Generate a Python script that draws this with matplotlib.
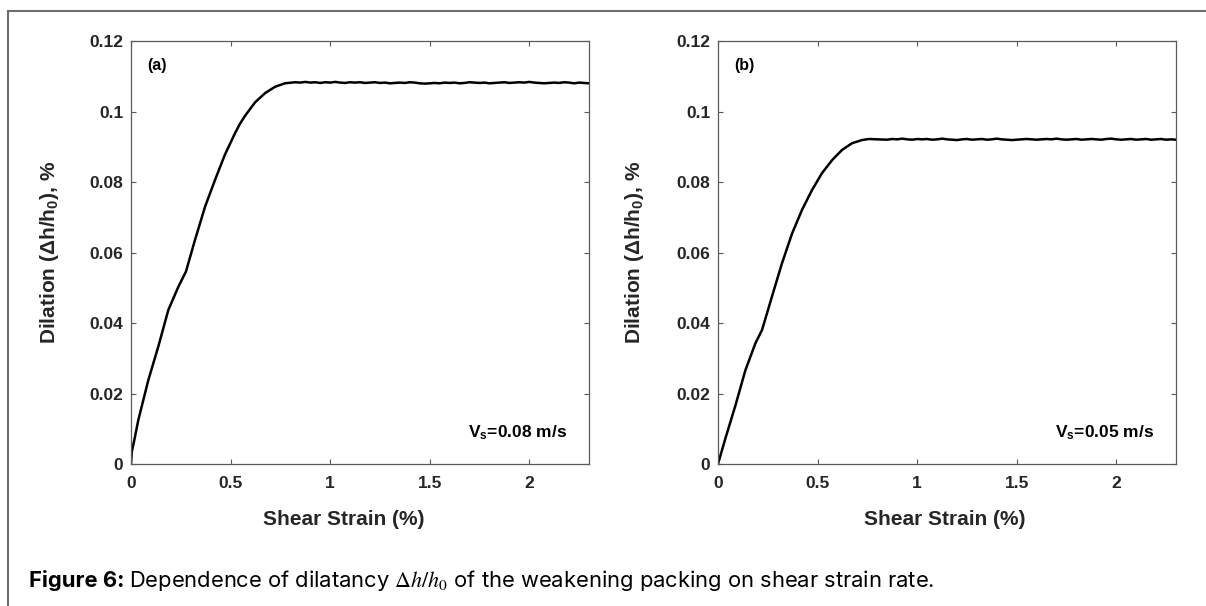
import numpy as np
import matplotlib
matplotlib.use("Agg")
import matplotlib.pyplot as plt
from matplotlib.lines import Line2D

plt.rcParams["font.family"] = ["Liberation Sans", "DejaVu Sans"]
plt.rcParams["mathtext.fontset"] = "custom"
plt.rcParams["mathtext.rm"] = "Liberation Sans:bold"
plt.rcParams["mathtext.it"] = "Liberation Sans:italic:bold"
plt.rcParams["mathtext.bf"] = "Liberation Sans:bold"

# ------------------------------------------------------------
# data
# ------------------------------------------------------------
# (a) Vs = 0.08 m/s : rising part
strain_a_rise = [0, 0.004, 0.0167, 0.0368, 0.087, 0.137, 0.1875, 0.238, 0.276,
                 0.321, 0.372, 0.422, 0.472, 0.522, 0.547, 0.573, 0.623, 0.673,
                 0.723, 0.773, 0.824]
dil_a_rise = [0, 0.0035, 0.0068, 0.0125, 0.0238, 0.0333, 0.0437, 0.0503, 0.0546,
              0.0635, 0.0730, 0.0806, 0.0878, 0.0938, 0.0965, 0.0988, 0.1026,
              0.1052, 0.1070, 0.1080, 0.1083]
# (a) plateau, sampled every 0.025 from 0.85 to 2.3
dil_a_plateau = [
    0.1082, 0.1084, 0.1082, 0.1083, 0.1081, 0.1083, 0.1082, 0.1084, 0.1082, 0.1081,
    0.1083, 0.1082, 0.1083, 0.1081, 0.1082, 0.1083, 0.1081, 0.1082, 0.1080, 0.1081,
    0.1082, 0.1081, 0.1083, 0.1082, 0.1080, 0.1079, 0.1080, 0.1081, 0.1080, 0.1082,
    0.1081, 0.1082, 0.1080, 0.1081, 0.1083, 0.1082, 0.1081, 0.1082, 0.1080, 0.1081,
    0.1082, 0.1083, 0.1081, 0.1082, 0.1083, 0.1082, 0.1084, 0.1082, 0.1081, 0.1080,
    0.1081, 0.1082, 0.1081, 0.1083, 0.1082, 0.1080, 0.1082, 0.1081, 0.1080]

# (b) Vs = 0.05 m/s : rising part
strain_b_rise = [0, 0.0368, 0.087, 0.137, 0.1875, 0.221, 0.271, 0.321, 0.372,
                 0.422, 0.472, 0.522, 0.573, 0.623, 0.673, 0.723, 0.757, 0.80]
dil_b_rise = [0, 0.0072, 0.0165, 0.0265, 0.0342, 0.0380, 0.0475, 0.0569, 0.0654,
              0.0721, 0.0777, 0.0825, 0.0862, 0.0891, 0.0910, 0.0919, 0.0922, 0.0921]
# (b) plateau, sampled every 0.025 from 0.85 to 2.3
dil_b_plateau = [
    0.0920, 0.0922, 0.0921, 0.0923, 0.0921, 0.0920, 0.0922, 0.0921, 0.0922, 0.0920,
    0.0921, 0.0923, 0.0921, 0.0920, 0.0919, 0.0921, 0.0922, 0.0920, 0.0921, 0.0922,
    0.0920, 0.0921, 0.0923, 0.0921, 0.0920, 0.0919, 0.0920, 0.0921, 0.0922, 0.0921,
    0.0920, 0.0921, 0.0922, 0.0921, 0.0923, 0.0921, 0.0920, 0.0921, 0.0922, 0.0920,
    0.0921, 0.0922, 0.0921, 0.0920, 0.0922, 0.0923, 0.0921, 0.0920, 0.0921, 0.0922,
    0.0920, 0.0921, 0.0922, 0.0920, 0.0921, 0.0922, 0.0920, 0.0921, 0.0920]

strain_plateau = np.round(0.85 + 0.025 * np.arange(len(dil_a_plateau)), 3)

x_ticks = [0, 0.5, 1, 1.5, 2]
x_tick_labels = ["0", "0.5", "1", "1.5", "2"]
y_ticks = [0, 0.02, 0.04, 0.06, 0.08, 0.1, 0.12]
y_tick_labels = ["0", "0.02", "0.04", "0.06", "0.08", "0.1", "0.12"]

panels = [
    ("(a)", "V$_\\mathbf{s}$=0.08 m/s", strain_a_rise, dil_a_rise, dil_a_plateau),
    ("(b)", "V$_\\mathbf{s}$=0.05 m/s", strain_b_rise, dil_b_rise, dil_b_plateau),
]

# ------------------------------------------------------------
# figure
# ------------------------------------------------------------
W, H = 1206, 606
fig = plt.figure(figsize=(W / 100, H / 100), dpi=100)

axes_left_px = [131, 718]
xlabel_x = [0.465, 0.495]
ylabel_x = [-0.179, -0.183]
tick_col = "#262626"
spine_col = "#5a5a5a"

for i, (tag, vs_text, xr, yr, yp) in enumerate(panels):
    ax = fig.add_axes([axes_left_px[i] / W, 1 - 464 / H, 458 / W, 423 / H])
    x = np.concatenate([xr, strain_plateau])
    y = np.concatenate([yr, yp])
    ax.plot(x, y, color="black", lw=1.8, solid_joinstyle="round")

    ax.set_xlim(0, 2.3)
    ax.set_ylim(0, 0.12)
    ax.set_xticks(x_ticks)
    ax.set_xticklabels(x_tick_labels, fontweight="bold")
    ax.set_yticks(y_ticks)
    ax.set_yticklabels(y_tick_labels, fontweight="bold")
    ax.tick_params(direction="in", length=3.5, width=0.8, colors=spine_col,
                   labelcolor=tick_col, labelsize=12.5, top=True, right=True)
    ax.tick_params(axis="x", pad=8.5)
    ax.tick_params(axis="y", pad=5.5)
    for s in ax.spines.values():
        s.set_color(spine_col)
        s.set_linewidth(0.9)

    ax.set_xlabel("Shear Strain (%)", fontsize=15, fontweight="bold",
                  color=tick_col, va="center")
    ax.xaxis.set_label_coords(xlabel_x[i], -0.132)
    ax.set_ylabel("Dilation (\u0394h/h$_\\mathbf{0}$), %", fontsize=15,
                  fontweight="bold", color=tick_col, va="center")
    ax.yaxis.set_label_coords(ylabel_x[i], 0.5)

    ax.text(0.08, 0.113, tag, fontsize=11.5, fontweight="bold", color="black",
            va="center", ha="left")
    ax.text(1.69, 0.0077, vs_text, fontsize=12.5, fontweight="bold",
            color="black", va="baseline", ha="left")

# frame around the figure block
frame_col = "#6f6f6f"
fig.add_artist(Line2D([8 / W, 1], [1 - 11 / H, 1 - 11 / H],
                      transform=fig.transFigure, color=frame_col, lw=1.5))
fig.add_artist(Line2D([8 / W, 8 / W], [0, 1 - 11 / H],
                      transform=fig.transFigure, color=frame_col, lw=1.5))

# caption
cap_font = ["Inter", "DejaVu Sans"]
cap_size = 15.8
cap_y = 1 - 587 / H
t1 = fig.text(29 / W, cap_y, "Figure 6:", fontsize=cap_size, fontweight="bold",
              family=cap_font, va="baseline", ha="left", color="black")
renderer = fig.canvas.get_renderer()
bb = t1.get_window_extent(renderer)
fig.text((bb.x1 + 5) / W, cap_y,
         "Dependence of dilatancy $\\Delta h/h_0$ of the weakening packing on "
         "shear strain rate.",
         fontsize=cap_size, fontweight="normal", family=cap_font,
         math_fontfamily="stix", va="baseline", ha="left", color="black")

fig.savefig("out.png", dpi=100)
